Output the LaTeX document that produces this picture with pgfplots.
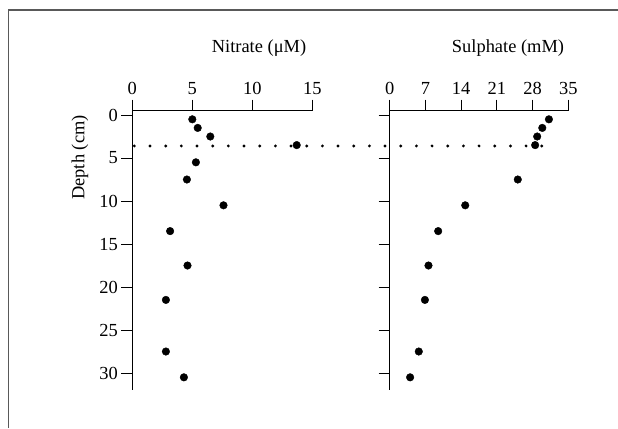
\documentclass[border=0pt]{standalone}
\usepackage{fontspec}
\setmainfont{Liberation Serif}
\usepackage{pgfplots}
\pgfplotsset{compat=1.18}

\pgfplotstableread{
depth nitrate
0.5  5.0
1.5  5.45
2.5  6.5
3.5  13.7
5.5  5.3
7.5  4.55
10.5 7.6
13.5 3.15
17.5 4.6
21.5 2.8
27.5 2.8
30.5 4.3
}\nitrate

\pgfplotstableread{
depth sulphate
0.5  31.2
1.5  29.9
2.5  28.9
3.5  28.5
7.5  25.1
10.5 14.8
13.5 9.5
17.5 7.6
21.5 6.9
27.5 5.7
30.5 4.0
}\sulphate

\pgfplotsset{
  panel/.style={
    scale only axis,
    height=279.5bp,
    ymin=-0.5, ymax=32,
    y dir=reverse,
    axis x line=top,
    axis y line=left,
    axis line style={-, line width=0.9bp},
    tick align=outside,
    major tick length=11bp,
    tick style={black, line width=0.9bp},
    ytick={0,5,...,30},
    tick label style={font=\fontsize{18.5}{21}\selectfont},
    xticklabel style={yshift=2bp},
    /pgf/number format/assume math mode=true,
    clip=false,
    anchor=north west,
  }
}

\begin{document}
\begin{tikzpicture}[x=1bp,y=1bp]
\useasboundingbox (0,0) rectangle (618,-428);
\draw[black!65, line width=1.3bp] (8.5,-428) -- (8.5,-10) -- (618,-10);

\begin{axis}[panel,
  at={(132.3bp,-110.7bp)},
  width=180bp,
  xmin=0, xmax=15,
  xtick={0,5,10,15},
]
\addplot[black, line width=3.2bp, line cap=round, dash pattern=on 0pt off 15.67bp, forget plot]
  coordinates {(0.17,3.6) (35.37,3.6)};
\addplot[only marks, mark=*, mark size=3.8bp, black] table[x=nitrate, y=depth] {\nitrate};
\end{axis}

\begin{axis}[panel,
  at={(389.7bp,-110.7bp)},
  width=178.6bp,
  xmin=0, xmax=35,
  xtick={0,7,14,21,28,35},
  yticklabels={},
]
\addplot[only marks, mark=*, mark size=3.8bp, black] table[x=sulphate, y=depth] {\sulphate};
\end{axis}

\node[font=\fontsize{18.5}{21}\selectfont] at (259,-48) {Nitrate (μM)};
\node[font=\fontsize{18.5}{21}\selectfont] at (508,-48) {Sulphate (mM)};
\node[font=\fontsize{18.5}{21}\selectfont, rotate=90] at (80,-157.5) {Depth (cm)};
\end{tikzpicture}
\end{document}
